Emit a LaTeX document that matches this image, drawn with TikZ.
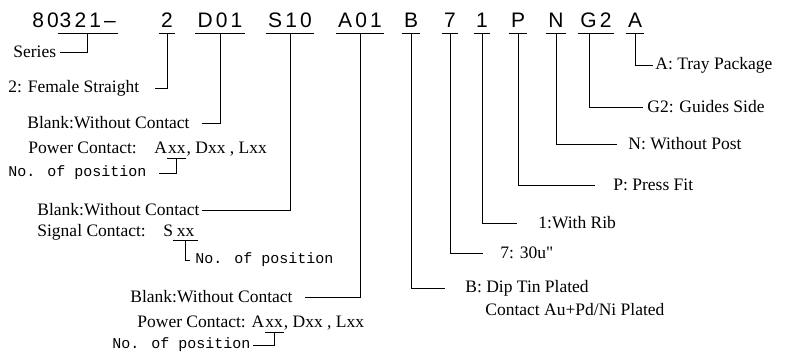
\documentclass[tikz,border=0pt]{standalone}
\usepackage{fontspec}
\setmainfont{Liberation Serif}
\newfontfamily\hdrfont[LetterSpace=15]{Liberation Sans}
\newfontfamily\posfont{Liberation Mono}
\usetikzlibrary{positioning}
\tikzset{hdr/.style = {font=\hdrfont\fontsize{21}{25}\selectfont,
                       anchor=base, inner xsep=2pt, inner ysep=5pt}}
\tikzset{lbl/.style = {font=\fontsize{17.5}{22}\selectfont,
                       anchor=west, inner sep=0pt}}
\tikzset{xx/.style = {font=\fontsize{17.5}{22}\selectfont,
                      anchor=base west, inner xsep=0.3pt, inner ysep=4pt}}
\tikzset{nopos/.style = {font=\posfont\fontsize{15}{18}\selectfont,
                         anchor=west, inner sep=0pt}}
\tikzset{
  every picture/.style={
    every path/.style={line width=0.8pt},
  }
}

\begin{document}
\begin{tikzpicture}[x=1pt,y=-1pt]
  \useasboundingbox (0,0) rectangle (787,358);
  % part number
  \node[hdr, anchor=base west, inner xsep=0pt] (h80) at (32,28) {80};
  \node[hdr, anchor=base west, inner xsep=0pt] (h321) at (h80.base east)
    {321\kern3pt\textendash};
  \node[hdr] (h2) at (167,28) {2};
  \node[hdr] (hD01) at (220,28) {D01};
  \node[hdr] (hS10) at (290,28) {S10};
  \node[hdr] (hA01) at (360,28) {A01};
  \node[hdr] (hB) at (411,28) {B};
  \node[hdr] (h7) at (450,28) {7};
  \node[hdr] (h1) at (482,28) {1};
  \node[hdr] (hP) at (518,28) {P};
  \node[hdr] (hN) at (556,28) {N};
  \node[hdr] (hG2) at (596,28) {G2};
  \node[hdr] (hA) at (635,28) {A};
  \draw ([xshift=-1pt]h321.south west) -- ([xshift=2pt]h321.south east);
  \foreach \h in {h2,hD01,hS10,hA01,hB,h7,h1,hP,hN,hG2,hA}
    \draw (\h.south west) -- (\h.south east);

  % left side
  \node[lbl] (tSeries) at (13,52) {Series};
  \draw (h321.south) |- ([xshift=3pt]tSeries.east);
  \node[lbl] (t2) at (8,88) {2: Female Straight};
  \draw (h2.south) |- ([xshift=15pt]t2.east);

  \node[lbl] (tD01) at (27,123) {Blank:Without Contact};
  \draw (hD01.south) |- ([xshift=12pt]tD01.east);
  \node[lbl] (tPowA) at (28,148) {Power Contact:\quad A};
  \node[xx] (xxA) at (tPowA.base east) {xx};
  \node[lbl, anchor=base west] (tPowA2) at (xxA.base east) {, Dxx , Lxx};
  \draw (xxA.south west) -- (xxA.south east);
  \node[nopos] (tNoA) at (8,173) {No. of position};
  \draw (xxA.south) |- ([xshift=12pt]tNoA.east);

  \node[lbl] (tS10) at (37,210) {Blank:Without Contact};
  \draw (hS10.south) |- ([xshift=2pt]tS10.east);
  \node[lbl] (tSig) at (37,232) {Signal Contact:\quad S\ };
  \node[xx, inner xsep=3pt] (xxS) at (tSig.base east) {xx};
  \draw (xxS.south west) -- (xxS.south east);
  \node[nopos] (tNoS) at (195,260) {No. of position};
  \draw (xxS.south) |- ([xshift=-5pt]tNoS.west);

  \node[lbl] (tA01) at (130,297) {Blank:Without Contact};
  \draw (hA01.south) |- ([xshift=12pt]tA01.east);
  \node[lbl] (tPowB) at (137,322) {Power Contact: A};
  \node[xx] (xxB) at (tPowB.base east) {xx};
  \node[lbl, anchor=base west] (tPowB2) at (xxB.base east) {, Dxx , Lxx};
  \draw (xxB.south west) -- (xxB.south east);
  \node[nopos] (tNoB) at (112,345) {No. of position};
  \draw (xxB.south) |- ([xshift=2pt]tNoB.east);

  % right side
  \node[lbl] (tA) at (655,65) {A: Tray Package};
  \draw (hA.south) |- ([xshift=-2pt]tA.west);
  \node[lbl] (tG2) at (647,107) {G2: Guides Side};
  \draw ([xshift=-7pt]hG2.south) |- ([xshift=-4pt]tG2.west);
  \node[lbl] (tN) at (628,144) {N: Without Post};
  \draw (hN.south) |- ([xshift=-11pt]tN.west);
  \node[lbl] (tP) at (613,185) {P: Press Fit};
  \draw (hP.south) |- ([xshift=-18pt]tP.west);
  \node[lbl] (t1) at (538,223) {1:With Rib};
  \draw (h1.south) |- ([xshift=-21pt]t1.west);
  \node[lbl] (t7) at (500,253) {7: 30u{\addfontfeature{Ligatures=TeXOff}"}};
  \draw (h7.south) |- ([xshift=-17pt]t7.west);
  \node[lbl] (tB) at (465,288) {B: Dip Tin Plated};
  \node[lbl] (tB2) at (485,310) {Contact Au+Pd/Ni Plated};
  \draw (hB.south) |- ([xshift=-20pt]tB.west);
\end{tikzpicture}
\end{document}
